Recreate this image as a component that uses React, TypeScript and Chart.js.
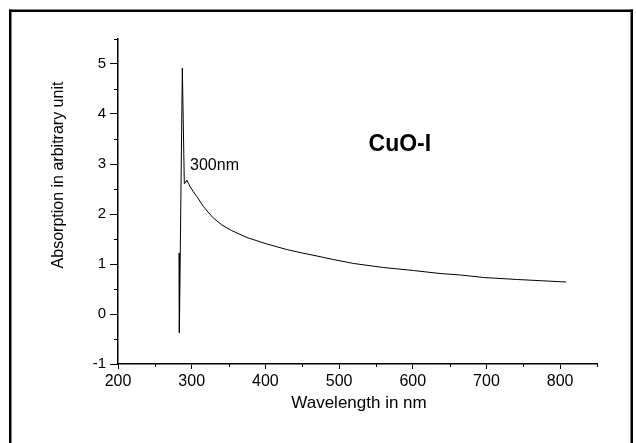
import React, { useEffect, useRef } from 'react';
import { Chart, registerables } from 'chart.js';

Chart.register(...registerables);

// ---- data ----
const wavelengths = [
  283.0, 283.3, 287.3, 290.0, 291.5, 293.3, 297.8, 302, 307, 316, 322, 329.5, 341, 354,
  375, 402, 429, 450, 470, 492, 520, 560, 601, 637, 665, 696, 742, 775, 808,
];
const absorption = [
  1.22, -0.37, 4.92, 2.61, 2.62, 2.68, 2.55, 2.45, 2.35, 2.15, 2.04, 1.92, 1.78, 1.67,
  1.53, 1.4, 1.29, 1.22, 1.16, 1.09, 1.01, 0.93, 0.87, 0.81, 0.78, 0.73, 0.69, 0.665, 0.64,
];

const xMajorTicks = [200, 300, 400, 500, 600, 700, 800];
const xMinorTicks = [250, 350, 450, 550, 650, 750, 850];
const yMajorTicks = [-1, 0, 1, 2, 3, 4, 5];
const yMinorTicks = [-0.5, 0.5, 1.5, 2.5, 3.5, 4.5, 5.5];

const xTitle = 'Wavelength in nm';
const yTitle = 'Absorption in arbitrary unit';
const peakLabel = { text: '300nm', x: 297.8, y: 2.96 };
const sampleLabel = { text: 'CuO-I', x: 582.5, y: 3.38 };

const FONT = '"Liberation Sans", Arial, Helvetica, sans-serif';

export default function App() {
  const ref = useRef<HTMLCanvasElement>(null);

  useEffect(() => {
    const canvas = ref.current;
    if (!canvas) return;

    const framePlugin = {
      id: 'frame',
      beforeDraw(chart: any) {
        const ctx = chart.ctx;
        ctx.save();
        ctx.fillStyle = '#fff';
        ctx.fillRect(0, 0, chart.width, chart.height);
        ctx.fillStyle = '#000';
        ctx.fillRect(9, 9.5, 624, 2.5);
        ctx.fillRect(9, 9.5, 2.5, chart.height);
        ctx.fillRect(630.5, 9.5, 2.5, chart.height);
        ctx.restore();
      },
    };

    const decorPlugin = {
      id: 'decor',
      afterDraw(chart: any) {
        const { ctx, chartArea } = chart;
        const x = chart.scales.x;
        const y = chart.scales.y;
        ctx.save();
        ctx.strokeStyle = '#000';
        ctx.lineWidth = 1;
        ctx.beginPath();
        xMinorTicks.forEach((v) => {
          const px = Math.round(x.getPixelForValue(v)) + 0.5;
          ctx.moveTo(px, chartArea.bottom);
          ctx.lineTo(px, chartArea.bottom + 3);
        });
        yMinorTicks.forEach((v) => {
          const py = Math.round(y.getPixelForValue(v)) + 0.5;
          ctx.moveTo(chartArea.left - 4, py);
          ctx.lineTo(chartArea.left, py);
        });
        ctx.stroke();

        ctx.fillStyle = '#000';
        // axis titles
        ctx.font = `17px ${FONT}`;
        ctx.textAlign = 'center';
        ctx.textBaseline = 'middle';
        ctx.fillText(xTitle, 359, 403);

        ctx.save();
        ctx.translate(59, 175);
        ctx.rotate(-Math.PI / 2);
        ctx.font = `16px ${FONT}`;
        ctx.fillText(yTitle, 0, 0);
        ctx.restore();

        // annotations
        ctx.font = `16px ${FONT}`;
        ctx.textAlign = 'left';
        ctx.fillText(peakLabel.text, x.getPixelForValue(peakLabel.x), y.getPixelForValue(peakLabel.y));
        ctx.font = `bold 23px ${FONT}`;
        ctx.textAlign = 'center';
        ctx.fillText(sampleLabel.text, x.getPixelForValue(sampleLabel.x), y.getPixelForValue(sampleLabel.y));
        ctx.restore();
      },
    };

    const chart = new Chart(canvas, {
      type: 'scatter',
      data: {
        datasets: [
          {
            data: wavelengths.map((w, i) => ({ x: w, y: absorption[i] })),
            showLine: true,
            borderColor: '#000',
            backgroundColor: '#000',
            borderWidth: 1,
            pointRadius: 0,
            tension: 0,
          },
        ],
      },
      options: {
        responsive: false,
        animation: false,
        devicePixelRatio: 1,
        layout: { padding: { left: 0, top: 39, right: 39, bottom: 0 } },
        plugins: { legend: { display: false }, tooltip: { enabled: false } },
        scales: {
          x: {
            type: 'linear',
            position: 'bottom',
            min: 200,
            max: 850,
            afterBuildTicks: (s: any) => {
              s.ticks = xMajorTicks.map((v) => ({ value: v }));
            },
            afterFit: (s: any) => {
              s.height = 79;
            },
            grid: { drawOnChartArea: false, drawTicks: true, tickLength: 5, color: '#000', tickColor: '#000' },
            border: { display: true, color: '#000', width: 1.5 },
            ticks: { color: '#000', font: { family: FONT, size: 16 }, padding: 3, maxRotation: 0, autoSkip: false },
          },
          y: {
            type: 'linear',
            min: -1,
            max: 5.5,
            afterBuildTicks: (s: any) => {
              s.ticks = yMajorTicks.map((v) => ({ value: v }));
            },
            afterFit: (s: any) => {
              s.width = 118;
            },
            grid: { drawOnChartArea: false, drawTicks: true, tickLength: 8, color: '#000', tickColor: '#000' },
            border: { display: true, color: '#000', width: 1.5 },
            ticks: { color: '#000', font: { family: FONT, size: 15 }, padding: 4, autoSkip: false },
          },
        },
      },
      plugins: [framePlugin, decorPlugin],
    } as any);

    return () => chart.destroy();
  }, []);

  return (
    <div style={{ position: 'fixed', left: 0, top: 0, width: 636, height: 443, background: '#fff' }}>
      <canvas ref={ref} width={636} height={443} style={{ display: 'block' }} />
    </div>
  );
}
